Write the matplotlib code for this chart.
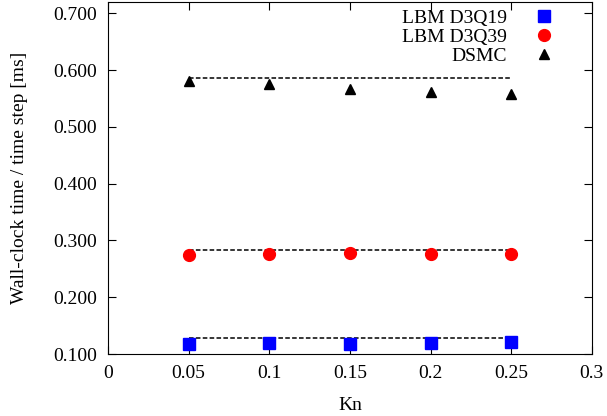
import matplotlib
matplotlib.use("Agg")
import matplotlib.pyplot as plt

plt.rcParams['font.family'] = ['Liberation Serif', 'DejaVu Serif']
plt.rcParams['font.size'] = 14

# values
kn = [0.05, 0.10, 0.15, 0.20, 0.25]
lbm_d3q19 = [0.117, 0.119, 0.117, 0.119, 0.1205]
lbm_d3q39 = [0.275, 0.277, 0.278, 0.277, 0.2755]
dsmc = [0.581, 0.576, 0.566, 0.561, 0.558]
# dashed reference levels
ref_d3q19 = 0.128
ref_d3q39 = 0.284
ref_dsmc = 0.586

xticks = [0, 0.05, 0.1, 0.15, 0.2, 0.25, 0.3]
xtick_labels = ['0', '0.05', '0.1', '0.15', '0.2', '0.25', '0.3']
yticks = [0.1, 0.2, 0.3, 0.4, 0.5, 0.6, 0.7]

fig = plt.figure(figsize=(6.07, 4.16), dpi=100)
ax = fig.add_axes([0.178, 0.149, 0.797, 0.846])

for lvl in [ref_d3q19, ref_d3q39, ref_dsmc]:
    ax.plot([kn[0], kn[-1]], [lvl, lvl], color='black', ls=(0, (3, 1.5)), lw=1.1)

ax.plot(kn, lbm_d3q19, ls='none', marker='s', ms=8, color='#0000ff', label='LBM D3Q19')
ax.plot(kn, lbm_d3q39, ls='none', marker='o', ms=8.5, color='#ff0000', label='LBM D3Q39')
ax.plot(kn, dsmc, ls='none', marker='^', ms=7.5, color='black', label='DSMC')

ax.set_xlim(0, 0.3)
ax.set_ylim(0.1, 0.72)
ax.set_xticks(xticks)
ax.set_xticklabels(xtick_labels)
ax.set_yticks(yticks)
ax.set_yticklabels(['%.3f' % v for v in yticks])
ax.tick_params(direction='in', top=True, right=True, length=6, pad=8)
ax.set_xlabel('Kn', labelpad=11)
ax.set_ylabel('Wall-clock time / time step [ms]', labelpad=18)

ax.legend(loc='upper right', bbox_to_anchor=(0.921, 0.98), markerfirst=False,
          frameon=False, handletextpad=1.4, borderpad=0, borderaxespad=0,
          labelspacing=0.07, handlelength=1.0)

fig.savefig('out.png', dpi=100)
